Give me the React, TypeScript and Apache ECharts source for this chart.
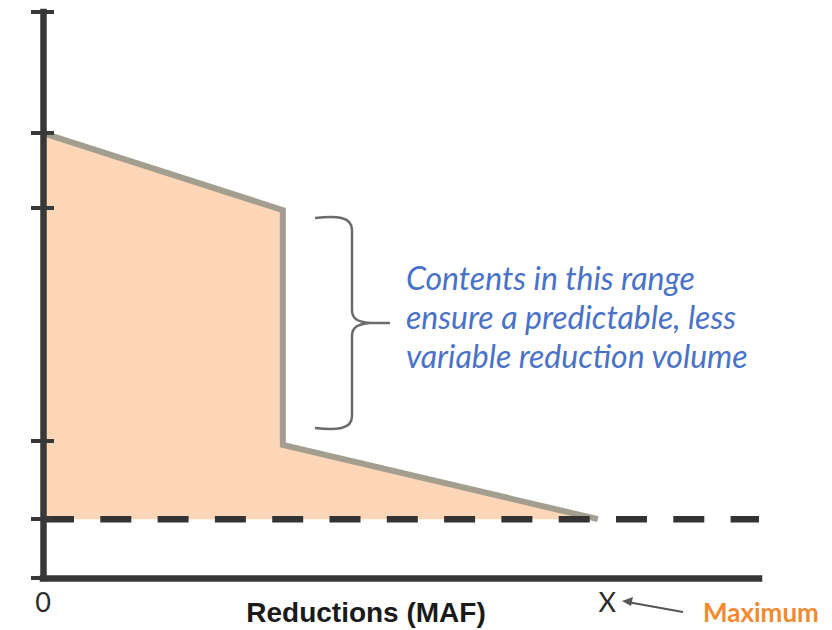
import React, { useEffect, useRef } from "react";
import * as echarts from "echarts";

// Data
const stepX = [0, 33.5, 33.5, 77.5];
const stepY = [78.6, 65.0, 23.5, 10.4];
const baselineValue = 10.4;
const xMax = 100;
const yMax = 100;
const yTickValues = [0, 10.4, 24.2, 65.5, 78.6, 100];
const xLabelValues = [0, 78.8];
const xLabelTexts = ["0", "X"];
const annotationLines = [
  "Contents in this range",
  "ensure a predictable, less",
  "variable reduction volume",
];
const xAxisTitle = "Reductions (MAF)";
const maxLabel = "Maximum";

const bracePath =
  "M315,218 C336,216 352,216 352,230 L352,310 C352,319 358,322 370,323 C358,324 352,327 352,336 L352,416 C352,430 336,430 315,428 M370,323 L390,323";

export default function App() {
  const ref = useRef<HTMLDivElement>(null);
  useEffect(() => {
    document.body.style.margin = "0";
    echarts.graphic.registerShape("brace", echarts.graphic.extendPath(bracePath, {}));
    const chart = echarts.init(ref.current!, null, { renderer: "svg" });
    const axisColor = "#383838";
    const innerTickLen = (11 / 716) * xMax; // inner half of each y tick, in x units
    chart.setOption({
      animation: false,
      backgroundColor: "#ffffff",
      grid: { left: 43, right: 73, top: 12, bottom: 52 },
      xAxis: {
        type: "value",
        min: 0,
        max: xMax,
        z: 10,
        splitLine: { show: false },
        axisTick: { show: false },
        axisLine: { lineStyle: { color: axisColor, width: 6.5, cap: "square" } },
        axisLabel: {
          customValues: xLabelValues,
          formatter: (v: number) => xLabelTexts[xLabelValues.indexOf(v)] ?? "",
          color: "#2b2b2b",
          fontFamily: "Lato",
          fontSize: 27,
          margin: 10,
        },
      },
      yAxis: {
        type: "value",
        min: 0,
        max: yMax,
        z: 10,
        offset: -11,
        splitLine: { show: false },
        axisLabel: { show: false },
        axisLine: { show: false },
        axisTick: {
          customValues: yTickValues,
          length: 23,
          lineStyle: { color: axisColor, width: 4 },
        },
      },
      series: [
        {
          type: "line",
          data: stepX.map((x, i) => [x, stepY[i]]),
          symbol: "none",
          z: 1,
          lineStyle: { color: "#a39e8f", width: 6, join: "miter" },
          areaStyle: { color: "#fcd6b6", opacity: 1, origin: baselineValue },
        },
        {
          type: "line",
          data: [
            [0, baselineValue],
            [xMax, baselineValue],
          ],
          symbol: "none",
          z: 2,
          clip: false,
          lineStyle: { color: "#333333", width: 6.5, type: [31, 26.3], cap: "butt" },
          markLine: {
            silent: true,
            symbol: "none",
            z: 8,
            label: { show: false },
            lineStyle: { color: axisColor, width: 6.5, type: "solid", cap: "square" },
            data: [
              [{ coord: [0, 0] }, { coord: [0, yMax] }],
              ...yTickValues.map((v) => [
                { coord: [0, v], lineStyle: { width: 4, cap: "butt" } },
                { coord: [innerTickLen, v] },
              ]),
            ],
          },
        },
      ],
      graphic: [
        {
          type: "brace",
          x: 0,
          y: 0,
          style: { fill: null, stroke: "#6b6b6b", lineWidth: 2.5 },
        },
        {
          type: "text",
          x: 406,
          y: 258,
          style: {
            text: annotationLines.join("\n"),
            fill: "#4a72c8",
            font: "italic 32px Lato",
            lineHeight: 39,
          },
        },
        {
          type: "text",
          x: 366,
          y: 612,
          style: {
            text: xAxisTitle,
            fill: "#1a1a1a",
            font: "bold 28px 'Liberation Sans'",
            align: "center",
            verticalAlign: "middle",
          },
        },
        {
          type: "line",
          shape: { x1: 683, y1: 612, x2: 630, y2: 602.5 },
          style: { stroke: "#555555", lineWidth: 2 },
        },
        {
          type: "polygon",
          shape: { points: [[622, 601], [633, 597], [631, 606]] },
          style: { fill: "#555555" },
        },
        {
          type: "text",
          x: 703,
          y: 612,
          style: {
            text: maxLabel,
            fill: "#f28a30",
            font: "bold 26px Lato",
            verticalAlign: "middle",
          },
        },
      ],
    });
    return () => chart.dispose();
  }, []);
  return <div ref={ref} style={{ width: 832, height: 630 }} />;
}
